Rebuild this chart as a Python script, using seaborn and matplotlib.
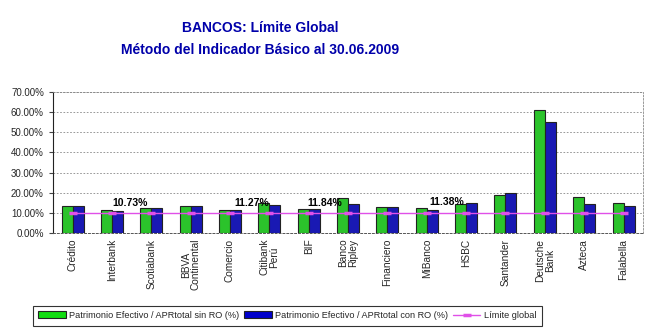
import matplotlib
matplotlib.use("Agg")
import matplotlib.pyplot as plt
import seaborn as sns
import pandas as pd
import numpy as np
from matplotlib.patches import Patch
from matplotlib.lines import Line2D
from matplotlib.ticker import FuncFormatter, FixedLocator

bancos = ["Crédito", "Interbank", "Scotiabank", "BBVA\nContinental", "Comercio",
          "Citibank\nPerú", "BIF", "Banco\nRipley", "Financiero", "MiBanco",
          "HSBC", "Santander", "Deutsche\nBank", "Azteca", "Falabella"]
sin_ro = [13.6, 11.5, 12.3, 13.5, 11.3, 14.9, 11.8, 17.5, 12.9, 12.3, 14.6, 19.0, 61.2, 17.9, 14.9]
con_ro = [13.6, 10.9, 12.3, 13.5, 11.3, 14.1, 11.8, 14.6, 12.9, 11.3, 14.9, 19.7, 55.1, 14.6, 13.6]
limite = [10.0] * 15
etiquetas = ["10.73%", "11.27%", "11.84%", "11.38%"]
etiq_x = [1.45, 4.55, 6.4, 9.5]
etiq_y = [14.9, 14.9, 14.9, 15.6]

serie1 = "Patrimonio Efectivo / APRtotal sin RO (%)"
serie2 = "Patrimonio Efectivo / APRtotal con RO (%)"
serie3 = "Límite global"

sns.set_style("white")
plt.rcParams["font.family"] = ["Liberation Sans", "DejaVu Sans"]

df = pd.DataFrame({"banco": bancos * 2,
                   "valor": sin_ro + con_ro,
                   "serie": [serie1] * 15 + [serie2] * 15})
df_lim = pd.DataFrame({"banco": bancos, "limite": limite})

green = "#11dd11"
blue = "#0000cc"
magenta = "#e050e8"

fig = plt.figure(figsize=(6.53, 3.34), dpi=100)
ax = fig.add_axes([0.081, 0.302, 0.904, 0.423])

sns.barplot(data=df, x="banco", y="valor", hue="serie", palette=[green, blue],
            width=0.56, gap=0, edgecolor="#222222", linewidth=0.8, ax=ax,
            legend=False, errorbar=None)
sns.pointplot(data=df_lim, x="banco", y="limite", color=magenta, markers="_",
              linestyles="-", markersize=6, markeredgewidth=2.5, linewidth=1.0,
              errorbar=None, ax=ax)

for t, xx, yy in zip(etiquetas, etiq_x, etiq_y):
    ax.text(xx, yy, t, ha="center", va="center", fontsize=7.5, fontweight="bold",
            color="black")

ax.set_xlim(-0.5, 14.5)
ax.set_ylim(0, 70)
ax.yaxis.set_major_locator(FixedLocator(np.arange(0, 71, 10)))
ax.yaxis.set_major_formatter(FuncFormatter(lambda v, p: f"{v:.2f}%"))
ax.grid(axis="y", color="#888888", linestyle=(0, (2, 2)), linewidth=0.6)
ax.set_axisbelow(True)
ax.set_xlabel("")
ax.set_ylabel("")

ax.tick_params(axis="x", which="major", length=0, labelsize=7, labelrotation=90, pad=4)
ax.set_xticks(range(15))
ax.set_xticklabels(bancos, rotation=90, fontsize=7.3, va="top", ha="center",
                   linespacing=1.0)
ax.set_xticks(np.arange(0.5, 14.5, 1), minor=True)
ax.tick_params(axis="x", which="minor", length=3, color="#444444", direction="out")
ax.tick_params(axis="y", length=3, labelsize=7, color="#444444", direction="out", left=True)

for s in ["top", "right"]:
    ax.spines[s].set_color("#888888")
    ax.spines[s].set_linestyle((0, (2, 2)))
    ax.spines[s].set_linewidth(0.6)
ax.spines["left"].set_color("#222222")
ax.spines["left"].set_linewidth(0.8)
ax.spines["bottom"].set_color("#555555")
ax.spines["bottom"].set_linestyle((0, (2, 2)))
ax.spines["bottom"].set_linewidth(0.7)

fig.text(0.398, 0.917, "BANCOS: Límite Global", ha="center", va="center",
         fontsize=10, fontweight="bold", color="#0000aa")
fig.text(0.398, 0.85, "Método del Indicador Básico al 30.06.2009", ha="center",
         va="center", fontsize=10, fontweight="bold", color="#0000aa")

handles = [Patch(facecolor=green, edgecolor="#222222", linewidth=0.8),
           Patch(facecolor=blue, edgecolor="#222222", linewidth=0.8),
           Line2D([0], [0], color=magenta, marker="_", markersize=6,
                  markeredgewidth=2.5, linewidth=1.0)]
leg = fig.legend(handles, [serie1, serie2, serie3], loc="center",
                 bbox_to_anchor=(0.44, 0.055), ncol=3, fontsize=6.6,
                 frameon=True, fancybox=False, edgecolor="black",
                 handlelength=3.0, handleheight=0.8, columnspacing=0.5,
                 handletextpad=0.4, borderpad=0.6)
leg.get_frame().set_linewidth(0.8)

fig.savefig("out.png", dpi=100)
